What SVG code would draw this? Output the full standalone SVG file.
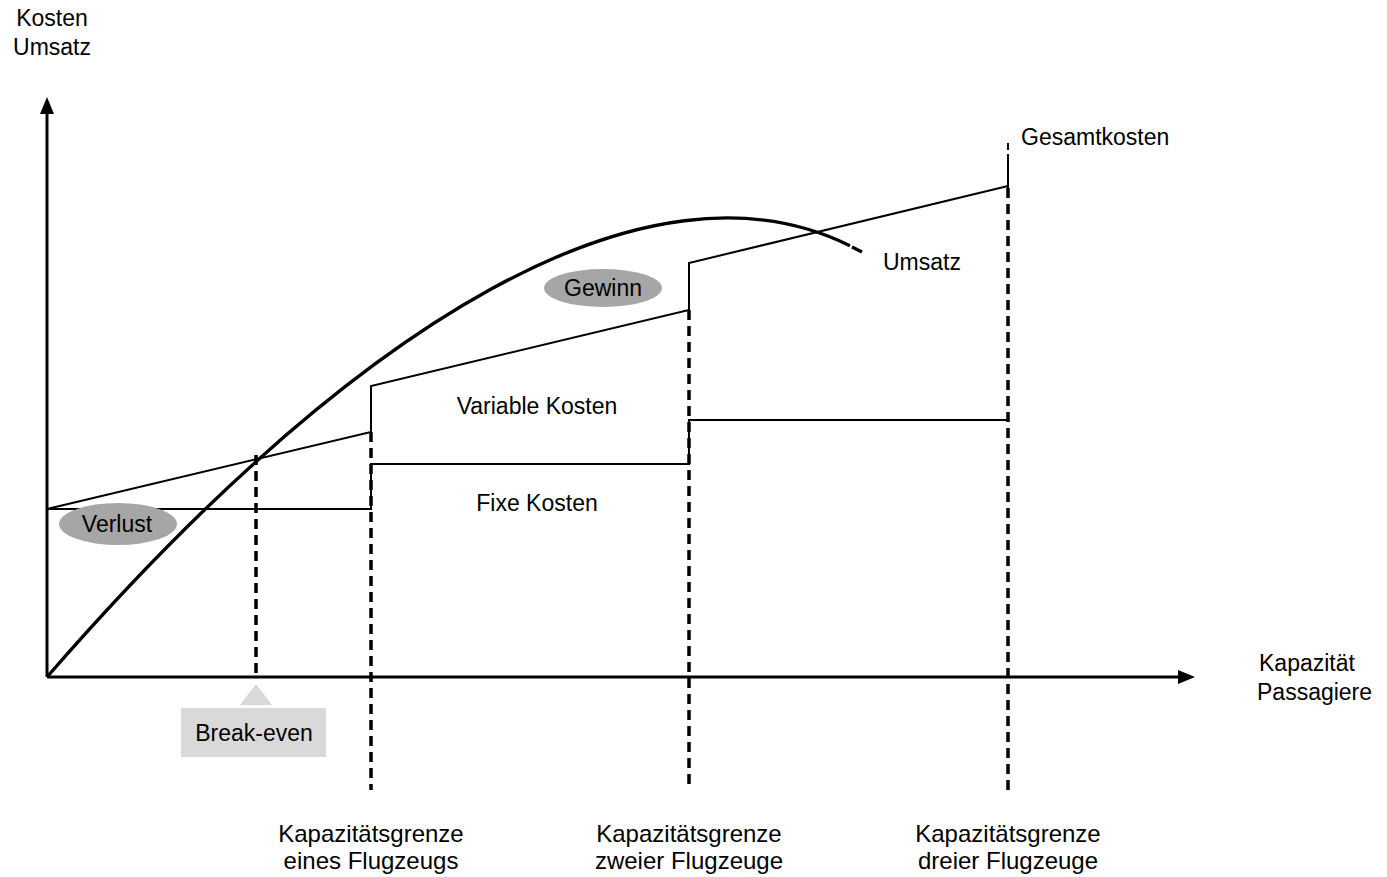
<svg xmlns="http://www.w3.org/2000/svg" width="1387" height="877" viewBox="0 0 1387 877">
<style>
text{font-family:"Liberation Sans",Arial,sans-serif;font-size:23px;fill:#000}
.m{text-anchor:middle}
.ax{stroke:#000;stroke-width:3;fill:none}
.ln{stroke:#000;stroke-width:2;fill:none}
.dash{stroke:#000;stroke-width:3.5;fill:none;stroke-dasharray:10 6}
.cur{stroke:#000;stroke-width:3.4;fill:none}
.bl{font-size:24px}
</style>
<rect width="1387" height="877" fill="#fff"/>
<g id="connectors">
<g id="dashed">
<line class="dash" x1="256" y1="455" x2="256" y2="677"/>
<line class="dash" x1="371" y1="432" x2="371" y2="790"/>
<line class="dash" x1="689" y1="310" x2="689" y2="790"/>
<line class="dash" x1="1008" y1="188" x2="1008" y2="790"/>
<line class="ln" x1="1008" y1="143" x2="1008" y2="150"/>
<line class="ln" x1="1008" y1="154" x2="1008" y2="188"/>
</g>
<g id="fixkosten">
<polyline class="ln" points="47,509 371,509 371,464 689,464 689,420 1008,420"/>
</g>
<g id="gesamtkosten">
<polyline class="ln" points="47,509 371,432 371,386 689,310 689,263 1008,186"/>
</g>
<g id="umsatz-kurve">
<path class="cur" d="M47,677 C360.6,316.4 650.2,146.9 849.9,245.7"/>
<line class="cur" x1="852" y1="247" x2="862" y2="252"/>
</g>
<g id="axes">
<line class="ax" x1="47" y1="677" x2="47" y2="110"/>
<polygon points="47,97 40,114 54,114" fill="#000"/>
<line class="ax" x1="47" y1="677" x2="1180" y2="677"/>
<polygon points="1195,677 1178,670 1178,684" fill="#000"/>
</g>
</g>
<g id="label-y"><text class="m" x="52" y="26">Kosten</text><text class="m" x="52" y="55">Umsatz</text></g>
<g id="label-x"><text x="1259" y="671">Kapazität</text><text x="1257" y="700">Passagiere</text></g>
<g id="label-gesamtkosten"><text x="1021" y="145">Gesamtkosten</text></g>
<g id="label-umsatz"><text x="883" y="270">Umsatz</text></g>
<g id="label-variable"><text class="m" x="537" y="414">Variable Kosten</text></g>
<g id="label-fixe"><text class="m" x="537" y="511">Fixe Kosten</text></g>
<g id="gewinn"><ellipse cx="603" cy="288" rx="59" ry="19" fill="#a6a6a6"/><text class="m" x="603" y="296">Gewinn</text></g>
<g id="verlust"><ellipse cx="118" cy="524" rx="59" ry="21" fill="#a6a6a6"/><text class="m" x="117" y="532">Verlust</text></g>
<g id="break-even">
<polygon points="256,684 240,705 272,705" fill="#d9d9d9"/>
<rect x="181" y="708" width="145" height="49" fill="#d9d9d9"/>
<text class="m" x="254" y="741">Break-even</text>
</g>
<g id="grenze1"><text class="m bl" x="371" y="842">Kapazitätsgrenze</text><text class="m bl" x="371" y="869">eines Flugzeugs</text></g>
<g id="grenze2"><text class="m bl" x="689" y="842">Kapazitätsgrenze</text><text class="m bl" x="689" y="869">zweier Flugzeuge</text></g>
<g id="grenze3"><text class="m bl" x="1008" y="842">Kapazitätsgrenze</text><text class="m bl" x="1008" y="869">dreier Flugzeuge</text></g>
</svg>
